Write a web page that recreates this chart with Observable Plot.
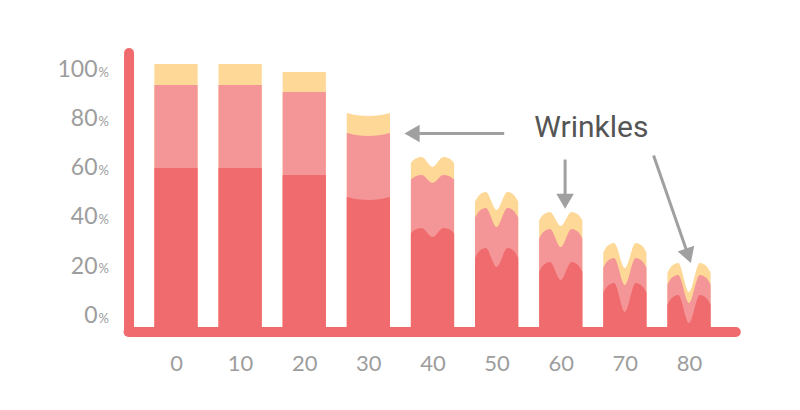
<!DOCTYPE html>
<html><head><meta charset="utf-8">
<script src="https://cdn.jsdelivr.net/npm/d3@7"></script>
<script src="https://cdn.jsdelivr.net/npm/@observablehq/plot@0.6"></script>
<style>html,body{margin:0;padding:0;background:#fff;overflow:hidden}</style>
</head><body><div id="chart"></div>
<script>
// ---- data (values in %) ----
const ages = [0, 10, 20, 30, 40, 50, 60, 70, 80];
const redPeak    = [59.8, 59.8, 56.9, 48.0, 35.4, 27.2, 21.5, 13.0, 8.1];
const redDip     = [59.8, 59.8, 56.9, 46.7, 31.7, 19.5, 14.2, 1.2, -3.3];
const pinkPeak   = [93.5, 93.5, 90.7, 74.0, 56.9, 43.5, 35.0, 23.2, 16.3];
const pinkDip    = [93.5, 93.5, 90.7, 72.8, 53.7, 35.8, 27.6, 12.2, 4.9];
const yellowPeak = [102.0, 102.0, 98.8, 82.1, 64.2, 50.0, 41.9, 29.3, 21.1];
const yellowDip  = [102.0, 102.0, 98.8, 80.9, 60.2, 42.7, 36.2, 19.1, 9.3];
const yTicks = [0, 20, 40, 60, 80, 100];

// annotation
const annoText = "Wrinkles";
const annoX = 64.7, annoY = 76.4;
const arrowX1 = [51.1, 60.6, 74.4];
const arrowY1 = [74.0, 63.4, 65.0];
const arrowX2 = [35.6, 60.6, 80.2];
const arrowY2 = [74.0, 43.5, 21.5];

// axis frame (data units)
const axisX = -7.4, axisBase = -6.7, axisTop = 106.5, axisEnd = 87.3;

// ---- styles ----
const RED = "#f06b6e", PINK = "#f49597", YELLOW = "#fdd897";
const GREY = "#9d9d9d", ARROW = "#a0a0a0";
const halfW = 3.37;
const xDomain = [0, 80], xRange = [176, 689];
const yDomain = [0, 100], yRange = [315, 69];

// build profile rows for each layer
const profileU = [-1, -0.8, -0.5, 0, 0.5, 0.8, 1];
function layerRows(peaks, dips) {
  const rows = [];
  ages.forEach((a, i) => {
    const p = peaks[i], d = dips[i];
    const depth = p - d;
    const corner = Math.min(4, depth * 0.6);
    profileU.forEach(u => {
      const au = Math.abs(u);
      let v;
      if (depth < 2) {
        // gentle concave top (arc)
        v = d + depth * au * au;
      } else if (au === 1) v = p - corner;
      else if (au === 0.8) v = p - corner * 0.3;
      else if (au === 0.5) v = p;
      else v = d;
      rows.push({bar: a, x: a + u * halfW, y: v});
    });
  });
  return rows;
}
const yellowRows = layerRows(yellowPeak, yellowDip);
const pinkRows = layerRows(pinkPeak, pinkDip);
const redRows = layerRows(redPeak, redDip);

// arrows: compute head placement in pixel space
const xs = d3.scaleLinear(xDomain, xRange), ys = d3.scaleLinear(yDomain, yRange);
const arrows = arrowX1.map((_, i) => {
  const px1 = xs(arrowX1[i]), py1 = ys(arrowY1[i]);
  const px2 = xs(arrowX2[i]), py2 = ys(arrowY2[i]);
  const L = Math.hypot(px2 - px1, py2 - py1);
  const ux = (px2 - px1) / L, uy = (py2 - py1) / L;
  return {
    x1: arrowX1[i], y1: arrowY1[i],
    x2: xs.invert(px2 - ux * 11), y2: ys.invert(py2 - uy * 11),
    hx: xs.invert(px2 - ux * 9.8), hy: ys.invert(py2 - uy * 9.8),
    angle: Math.atan2(ux, -uy) * 180 / Math.PI
  };
});

const area = (rows, fill) => Plot.areaY(rows, {
  x: "x", y1: () => axisBase, y2: "y", z: "bar", fill, curve: "monotone-x"
});

const chart = Plot.plot({
  width: 800, height: 410,
  marginLeft: 100, marginBottom: 55, marginTop: 0, marginRight: 0,
  style: {fontFamily: "Lato, sans-serif", background: "#fff"},
  x: {domain: xDomain, range: xRange, axis: null},
  y: {domain: yDomain, range: yRange, axis: null},
  marks: [
    area(yellowRows, YELLOW),
    area(pinkRows, PINK),
    area(redRows, RED),
    Plot.ruleX([axisX], {y1: () => axisBase, y2: () => axisTop, stroke: RED, strokeWidth: 10, strokeLinecap: "round"}),
    Plot.ruleY([axisBase], {x1: () => axisX, x2: () => axisEnd, stroke: RED, strokeWidth: 10, strokeLinecap: "round"}),
    Plot.text(yTicks, {y: d => d, text: d => String(d), frameAnchor: "left", textAnchor: "end", dx: -3, fontSize: 23, fill: GREY}),
    Plot.text(yTicks, {y: d => d, text: () => "%", frameAnchor: "left", textAnchor: "start", dx: -2, dy: 3, fontSize: 13, fill: GREY}),
    Plot.text(ages, {x: d => d, text: d => String(d), frameAnchor: "bottom", lineAnchor: "top", fontSize: 22, fill: GREY}),
    Plot.link(arrows, {x1: "x1", y1: "y1", x2: "x2", y2: "y2", stroke: ARROW, strokeWidth: 3}),
    Plot.dot(arrows, {x: "hx", y: "hy", symbol: "triangle", r: 6.5, rotate: "angle", fill: ARROW, stroke: "none"}),
    Plot.text([annoText], {x: () => annoX, y: () => annoY, text: d => d, fontSize: 30, fill: "#555", fontFamily: "Roboto"})
  ]
});
document.getElementById("chart").appendChild(chart);
</script>
</body></html>
